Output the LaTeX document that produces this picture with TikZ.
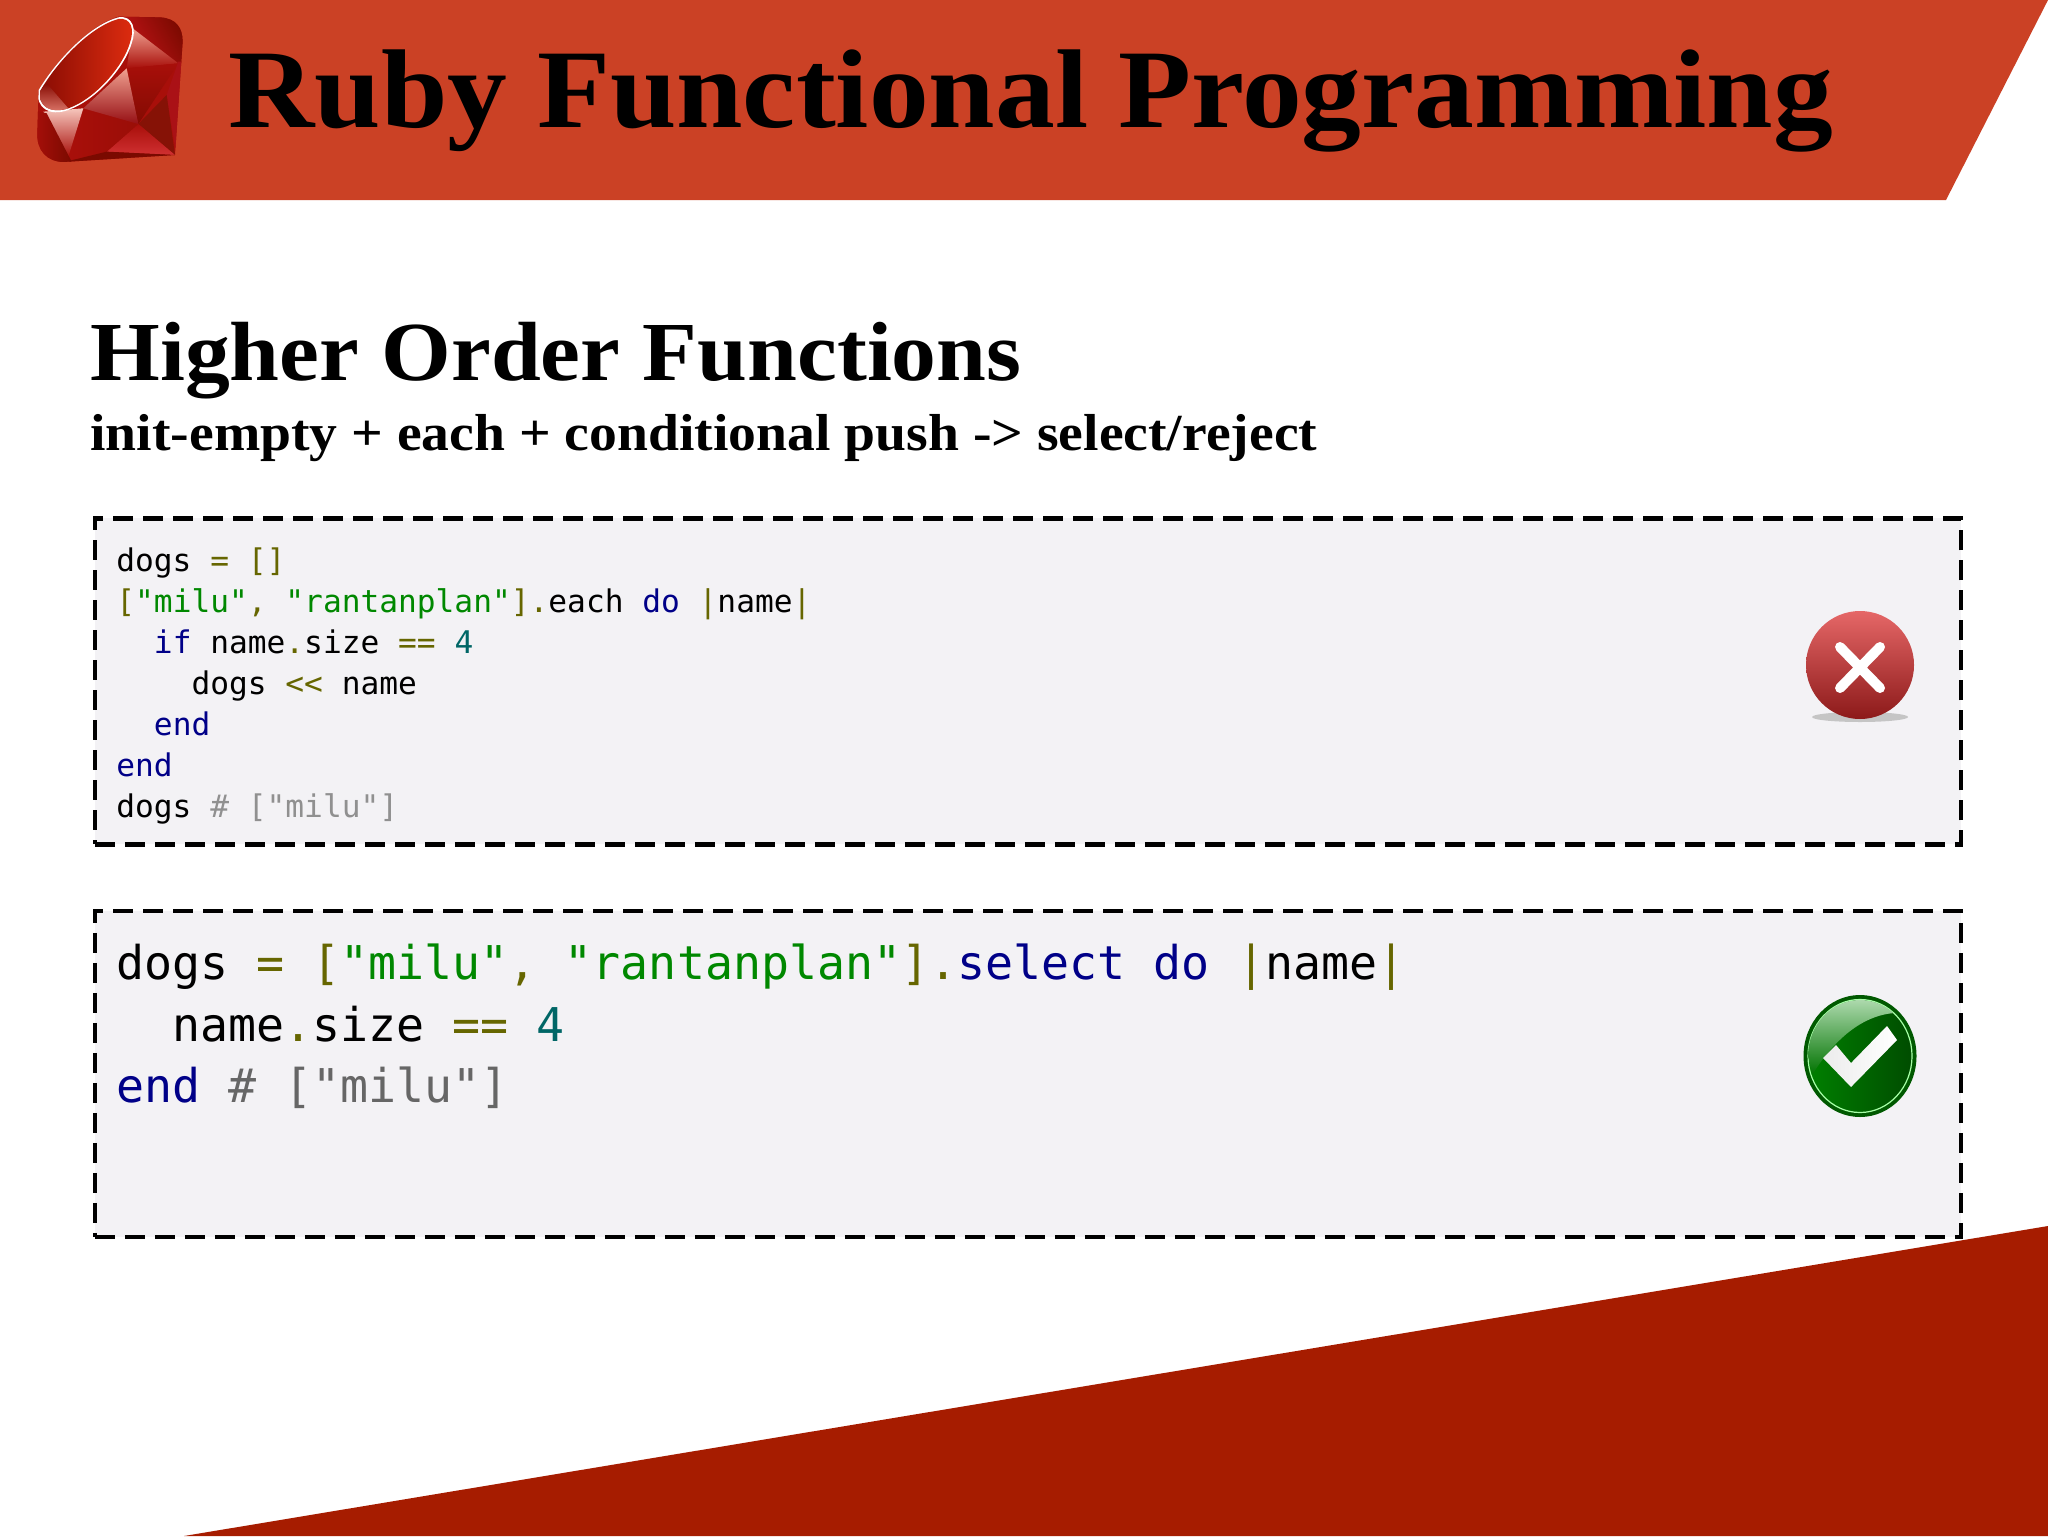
\documentclass[tikz,border=0pt]{standalone}
\usepackage{fontspec}
\setmainfont{Liberation Serif}
\newfontfamily\titlefont[FakeStretch=1.067]{Liberation Serif}
\newfontfamily\subfont[FakeStretch=1.07]{Liberation Serif}
\newfontfamily\codefont{DejaVu Sans Mono}
\definecolor{headred}{HTML}{CB4125}
\definecolor{footred}{HTML}{A61C00}
\definecolor{panelgray}{HTML}{F3F2F5}
\definecolor{codepun}{HTML}{666600}
\definecolor{codekw}{HTML}{000088}
\definecolor{codestr}{HTML}{008800}
\definecolor{codenum}{HTML}{006666}
\definecolor{codecom}{HTML}{666666}
\definecolor{codecoml}{HTML}{909090}
\definecolor{gemdark}{HTML}{7A0A00}
\definecolor{gemmid}{HTML}{A80F0A}
\definecolor{gemred}{HTML}{C8141A}
\definecolor{gemlight}{HTML}{F0A090}
\newcommand{\pun}[1]{\textcolor{codepun}{#1}}
\newcommand{\kw}[1]{\textcolor{codekw}{#1}}
\newcommand{\str}[1]{\textcolor{codestr}{#1}}
\newcommand{\num}[1]{\textcolor{codenum}{#1}}
\tikzset{
  heading/.style = {inner sep = 0pt, anchor = base west},
  panel/.style = {draw = black, fill = panelgray, line width = 2.4pt, dash pattern = on 10pt off 5pt,
    minimum width = 933pt, minimum height = 163pt, anchor = north west, inner sep = 0pt},
  code/.style = {inner sep = 0pt, anchor = north west, align = left}
}
\begin{document}
\begin{tikzpicture}[x = 0.5pt, y = -0.5pt]
  \useasboundingbox (0,0) rectangle (2048,1536);
  \fill[white] (0,0) rectangle (2048,1536);
  \fill[headred] (0,0) -- (2048,0) -- (1946,200) -- (0,200) -- cycle;
  \fill[footred] (2048,1226) -- (2048,1536) -- (184,1536) -- cycle;

  \node[heading, font = \titlefont\bfseries\fontsize{56}{60}\selectfont] (title) at (228,127) {Ruby Functional Programming};
  \node[heading, font = \titlefont\bfseries\fontsize{42}{46}\selectfont] (subject) at (90,380) {Higher Order Functions};
  \node[heading, font = \subfont\bfseries\fontsize{26}{30}\selectfont] (subtitle) at (90,450) {init-empty + each + conditional push -> select/reject};

  \node[panel] (badbox) at (92.5,516) {};
  \node[panel] (goodbox) at (92.5,908.5) {};

  \node[code, font = \codefont\fontsize{15.6}{20.5}\selectfont] (badcode) at (116,547.5) {%
    dogs \pun{= []}\\
    \pun{[}\str{"milu"}\pun{,} \str{"rantanplan"}\pun{].}each \kw{do} \pun{|}name\pun{|}\\
    \hphantom{xx}\kw{if} name\pun{.}size \pun{==} \num{4}\\
    \hphantom{xxxx}dogs \pun{<{}<} name\\
    \hphantom{xx}\kw{end}\\
    \kw{end}\\
    dogs \textcolor{codecoml}{\# ["milu"]}};
  \node[code, font = \codefont\fontsize{23.28}{30.75}\selectfont] (goodcode) at (116,943.5) {%
    dogs \pun{= [}\str{"milu"}\pun{,} \str{"rantanplan"}\pun{].}\kw{select do} \pun{|}name\pun{|}\\
    \hphantom{xx}name\pun{.}size \pun{==} \num{4}\\
    \kw{end} \textcolor{codecom}{\# ["milu"]}};

  % cross icon
  \fill[black!30, opacity = 0.7] (1860,717) ellipse (48 and 5);
  \shade[top color = red!55!white!90!black, middle color = red!55!black!85!white, bottom color = red!50!black!90!white] (1860,665) ellipse (54 and 54);
  \draw[white, line width = 5pt, line cap = round] (1840,647) -- (1880,688) (1880,647) -- (1840,688);

  % check icon
  \fill[green!35!black] (1860,1056) ellipse (56.5 and 61);
  \shade[left color = green!50!black, right color = green!30!black] (1860,1056) ellipse (52 and 56);
  \draw[white!65!green, line width = 0.6pt] (1860,1056) ellipse (52 and 56.5);
  \shade[top color = green!25!white!70!gray, bottom color = green!45!black] (1808,1056) arc (180:310:52 and 56) .. controls (1870,1015) and (1840,1030) .. (1812,1075) -- cycle;
  \shade[left color = white!85!gray, right color = white] (1823,1058) -- (1836,1045) -- (1851,1063) -- (1887,1026) -- (1897,1040) -- (1851,1087) -- cycle;

  % ruby logo, in coordinates of a 3x grid
  \begin{scope}[x = 1pt/6, y = -1pt/6]
    \clip (355,50) -- (480,52) .. controls (530,55) and (548,85) .. (548,125) -- (525,465) -- (190,486) .. controls (140,485) and (110,450) .. (112,400) -- (116,270) .. controls (170,180) and (270,75) .. (355,50) -- cycle;
    \fill[gemmid] (100,30) rectangle (570,500);
    \shade[left color = gemred, right color = gemdark, shading angle = 120] (355,50) -- (560,40) -- (560,195) -- (535,190) -- (398,85) -- cycle;
    \shade[top color = gemlight, bottom color = gemmid] (398,85) -- (535,190) -- (380,205) -- cycle;
    \shade[top color = gemmid, bottom color = gemdark!80!gemmid] (380,205) -- (535,190) -- (415,372) -- cycle;
    \fill[gemred!85!black] (535,185) -- (560,185) -- (530,470) -- (500,285) -- cycle;
    \fill[gemdark!85!headred] (415,372) -- (500,285) -- (525,465) -- cycle;
    \shade[top color = gemmid, bottom color = gemred!80!gemlight] (415,372) -- (525,465) -- (320,455) -- cycle;
    \shade[left color = gemmid, right color = gemmid!70!gemdark] (250,325) -- (415,372) -- (320,455) -- (210,482) -- cycle;
    \shade[top color = gemlight, bottom color = gemred!75!black] (380,205) -- (415,372) -- (250,325) -- cycle;
    \shade[top color = gemlight!60!white, bottom color = gemmid] (130,335) -- (250,325) -- (205,470) -- cycle;
    \shade[left color = gemmid, right color = gemdark] (100,330) -- (140,340) -- (215,485) -- (100,500) -- cycle;
    \fill[gemdark] (210,482) -- (320,455) -- (525,465) -- (530,480) -- (200,495) -- cycle;
    \fill[white] (355,52) .. controls (400,45) and (410,90) .. (395,130) .. controls (375,200) and (290,300) .. (205,330) .. controls (150,350) and (105,325) .. (116,270) .. controls (170,180) and (270,75) .. (355,52) -- cycle;
    \shade[shading angle = 60, left color = gemdark!70!gemmid, right color = gemred!70!orange!85!red] (355,57) .. controls (394,52) and (404,88) .. (390,128) .. controls (370,198) and (287,296) .. (205,325) .. controls (153,342) and (113,320) .. (121,272) .. controls (173,183) and (272,80) .. (355,57) -- cycle;
    \shade[top color = gemdark!70!gemmid, bottom color = gemlight!70!gemmid] (140,250) -- (205,325) .. controls (175,335) and (135,335) .. (121,300) -- (121,272) -- cycle;
  \end{scope}
\end{tikzpicture}
\end{document}
